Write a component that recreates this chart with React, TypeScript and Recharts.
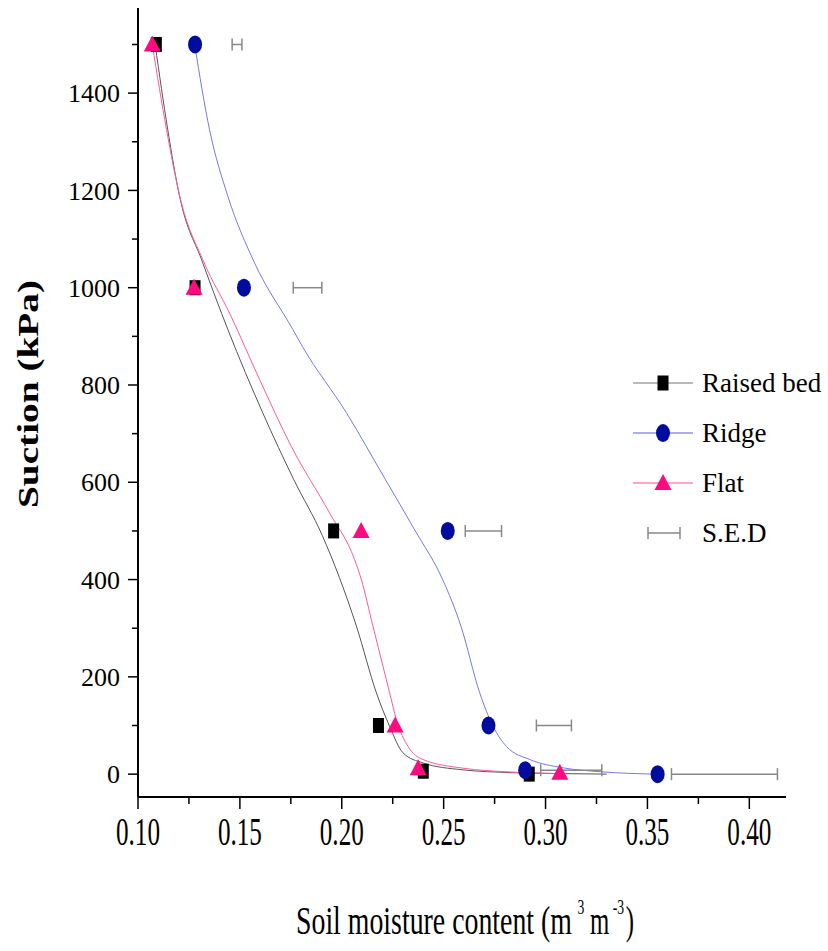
import React from "react";
import {
  ComposedChart,
  Line,
  Scatter,
  ErrorBar,
  XAxis,
  YAxis,
} from "recharts";

// measured points
const raisedX = [0.109, 0.128, 0.196, 0.218, 0.24, 0.292];
const raisedY = [1500, 1000, 500, 100, 6, 0];
const ridgeX = [0.128, 0.152, 0.252, 0.272, 0.29, 0.355];
const ridgeY = [1500, 1000, 500, 100, 8, 0];
const flatX = [0.107, 0.1275, 0.2095, 0.2262, 0.2375, 0.307];
const flatY = [1500, 1000, 500, 100, 12, 3];

// fitted curves
const raisedCurveX = [0.1084, 0.1146, 0.1204, 0.1318, 0.1441, 0.1613, 0.1765, 0.1905, 0.2072, 0.217, 0.2235, 0.23, 0.2399, 0.259, 0.284, 0.31, 0.33];
const raisedCurveY = [1500, 1325, 1188, 1051, 914, 742, 605, 490, 304, 167, 98, 44, 23, 9, 3, 1, 0];
const ridgeCurveX = [0.1278, 0.1351, 0.1441, 0.1572, 0.176, 0.1807, 0.2024, 0.2215, 0.2358, 0.2495, 0.2585, 0.2677, 0.2743, 0.2808, 0.2923, 0.3086, 0.3267, 0.3547];
const ridgeCurveY = [1500, 1325, 1188, 1051, 914, 879, 742, 605, 502, 400, 304, 167, 98, 57, 30, 13, 5, 0];
const flatCurveX = [0.107, 0.114, 0.1205, 0.1325, 0.1449, 0.1597, 0.1752, 0.194, 0.2063, 0.2096, 0.2153, 0.2235, 0.2268, 0.2325, 0.2399, 0.26, 0.28, 0.31];
const flatCurveY = [1500, 1325, 1188, 1051, 948, 811, 674, 537, 441, 400, 304, 167, 112, 57, 30, 12, 5, 1];

// S.E.D bars
const sedCenter = [0.1486, 0.1832, 0.2695, 0.3041, 0.3126, 0.3878];
const sedY = [1500, 1000, 500, 100, 8, 0];
const sedErr = [0.0024, 0.007, 0.0089, 0.0086, 0.015, 0.026];

const xTicks = [0.1, 0.125, 0.15, 0.175, 0.2, 0.225, 0.25, 0.275, 0.3, 0.325, 0.35, 0.375, 0.4];
const yTicks = [0, 100, 200, 300, 400, 500, 600, 700, 800, 900, 1000, 1100, 1200, 1300, 1400, 1500];

const legendNames = ["Raised bed", "Ridge", "Flat", "S.E.D"];

const zip = (xs: number[], ys: number[]) => xs.map((x, i) => ({ x, y: ys[i] }));
const raisedPts = zip(raisedX, raisedY);
const ridgePts = zip(ridgeX, ridgeY);
const flatPts = zip(flatX, flatY);
const raisedCurve = zip(raisedCurveX, raisedCurveY);
const ridgeCurve = zip(ridgeCurveX, ridgeCurveY);
const flatCurve = zip(flatCurveX, flatCurveY);
const sedRows = sedCenter.map((x, i) => ({ x, y: sedY[i], err: sedErr[i] }));

const FONT = "'Liberation Serif', 'Times New Roman', serif";
const BLACK = "#000000";
const NAVY = "#000c9e";
const PINK = "#ff0a80";

// note: scatter passes its own "size", so don't use that name here
const Square = ({ cx, cy }: any) => (
  <rect x={cx - 5.5} y={cy - 7.5} width={11} height={15} fill={BLACK} />
);
const Oval = ({ cx, cy }: any) => <ellipse cx={cx} cy={cy} rx={7} ry={9} fill={NAVY} />;
const Tri = ({ cx, cy }: any) => (
  <polygon points={`${cx},${cy - 9} ${cx - 8.5},${cy + 7} ${cx + 8.5},${cy + 7}`} fill={PINK} />
);
const Nothing = () => <g />;

const XTick = ({ x, y, payload, index }: any) => {
  const major = index % 2 === 0;
  return (
    <g>
      <line x1={x} x2={x} y1={y} y2={y + (major ? 12 : 7)} stroke="#000" strokeWidth={1.5} />
      {major && (
        <text
          x={x}
          y={y + 48}
          textAnchor="middle"
          fontFamily={FONT}
          fontSize={40}
          textLength={44}
          lengthAdjust="spacingAndGlyphs"
          fill="#000"
        >
          {payload.value.toFixed(2)}
        </text>
      )}
    </g>
  );
};

const YTick = ({ x, y, payload }: any) => {
  const major = payload.value % 200 === 0;
  return (
    <g>
      <line x1={x} x2={x - (major ? 10 : 6)} y1={y} y2={y} stroke="#000" strokeWidth={1.5} />
      {major && (
        <text x={x - 18} y={y} dy="0.35em" textAnchor="end" fontFamily={FONT} fontSize={26} fill="#000">
          {payload.value}
        </text>
      )}
    </g>
  );
};

const legendColors = ["#777777", "#5a5ad6", "#ff4d9a"];
const legendMarks = [Square, Oval, Tri];

const LegendBox = () => (
  <div style={{ position: "absolute", left: 633, top: 358, fontFamily: FONT }}>
    {legendNames.map((name, i) => {
      const isSed = i === 3;
      const Mark = legendMarks[i];
      return (
        <div key={name} style={{ display: "flex", alignItems: "center", height: 50 }}>
          <svg width={64} height={24} style={{ overflow: "visible" }}>
            {isSed ? (
              <g stroke="#888" strokeWidth={1.5}>
                <line x1={15} x2={47} y1={12} y2={12} />
                <line x1={15} x2={15} y1={6} y2={18} />
                <line x1={47} x2={47} y1={6} y2={18} />
              </g>
            ) : (
              <>
                <line x1={0} x2={60} y1={12} y2={12} stroke={legendColors[i]} strokeWidth={1.2} />
                <Mark cx={30} cy={12} />
              </>
            )}
          </svg>
          <span style={{ fontSize: 27, marginLeft: 5, color: "#000" }}>{name}</span>
        </div>
      );
    })}
  </div>
);

// condensed title: drawn at natural size, squeezed horizontally by the group transform
const XTitle = () => (
  <g transform="translate(296, 934) scale(0.62, 1)" fontFamily={FONT} fill="#000">
    <text x={0} y={0} fontSize={40} textLength={445} lengthAdjust="spacingAndGlyphs">
      Soil moisture content (m
    </text>
    <text x={454} y={-20} fontSize={22}>3</text>
    <text x={474} y={0} fontSize={40}>m</text>
    <text x={511} y={-20} fontSize={22}>-3</text>
    <text x={532} y={0} fontSize={40}>)</text>
  </g>
);

const YTitle = () => (
  <text
    x={0}
    y={0}
    transform="translate(27, 394) rotate(-90)"
    textAnchor="middle"
    dominantBaseline="central"
    fontFamily={FONT}
    fontSize={30}
    fontWeight="bold"
    textLength={228}
    lengthAdjust="spacingAndGlyphs"
    fill="#000"
  >
    Suction (kPa)
  </text>
);

export default function App() {
  return (
    <div style={{ position: "absolute", left: 0, top: 0, width: 828, height: 951, background: "#fff" }}>
      <ComposedChart width={828} height={951} margin={{ top: 8, right: 42, bottom: 114, left: 38 }}>
        <XAxis
          dataKey="x"
          type="number"
          domain={[0.1, 0.418]}
          ticks={xTicks}
          interval={0}
          height={40}
          tickSize={0}
          tickMargin={0}
          tickLine={false}
          axisLine={{ stroke: "#000", strokeWidth: 2 }}
          tick={<XTick />}
          label={<XTitle />}
        />
        <YAxis
          dataKey="y"
          type="number"
          domain={[-47, 1575]}
          ticks={yTicks}
          interval={0}
          width={100}
          tickSize={0}
          tickMargin={0}
          tickLine={false}
          axisLine={{ stroke: "#000", strokeWidth: 2 }}
          tick={<YTick />}
          label={<YTitle />}
        />
        <Line data={raisedCurve} dataKey="y" type="monotone" stroke="#555555" strokeWidth={1} dot={false} isAnimationActive={false} />
        <Line data={flatCurve} dataKey="y" type="monotone" stroke="#ff5aa0" strokeWidth={1} dot={false} isAnimationActive={false} />
        <Line data={ridgeCurve} dataKey="y" type="monotone" stroke="#7878e6" strokeWidth={1} dot={false} isAnimationActive={false} />
        <Scatter data={sedRows} dataKey="y" shape={<Nothing />} isAnimationActive={false}>
          <ErrorBar dataKey="err" direction="x" width={6} stroke="#888888" strokeWidth={1.5} />
        </Scatter>
        <Scatter data={raisedPts} dataKey="y" shape={<Square />} isAnimationActive={false} />
        <Scatter data={ridgePts} dataKey="y" shape={<Oval />} isAnimationActive={false} />
        <Scatter data={flatPts} dataKey="y" shape={<Tri />} isAnimationActive={false} />
      </ComposedChart>
      <LegendBox />
    </div>
  );
}
